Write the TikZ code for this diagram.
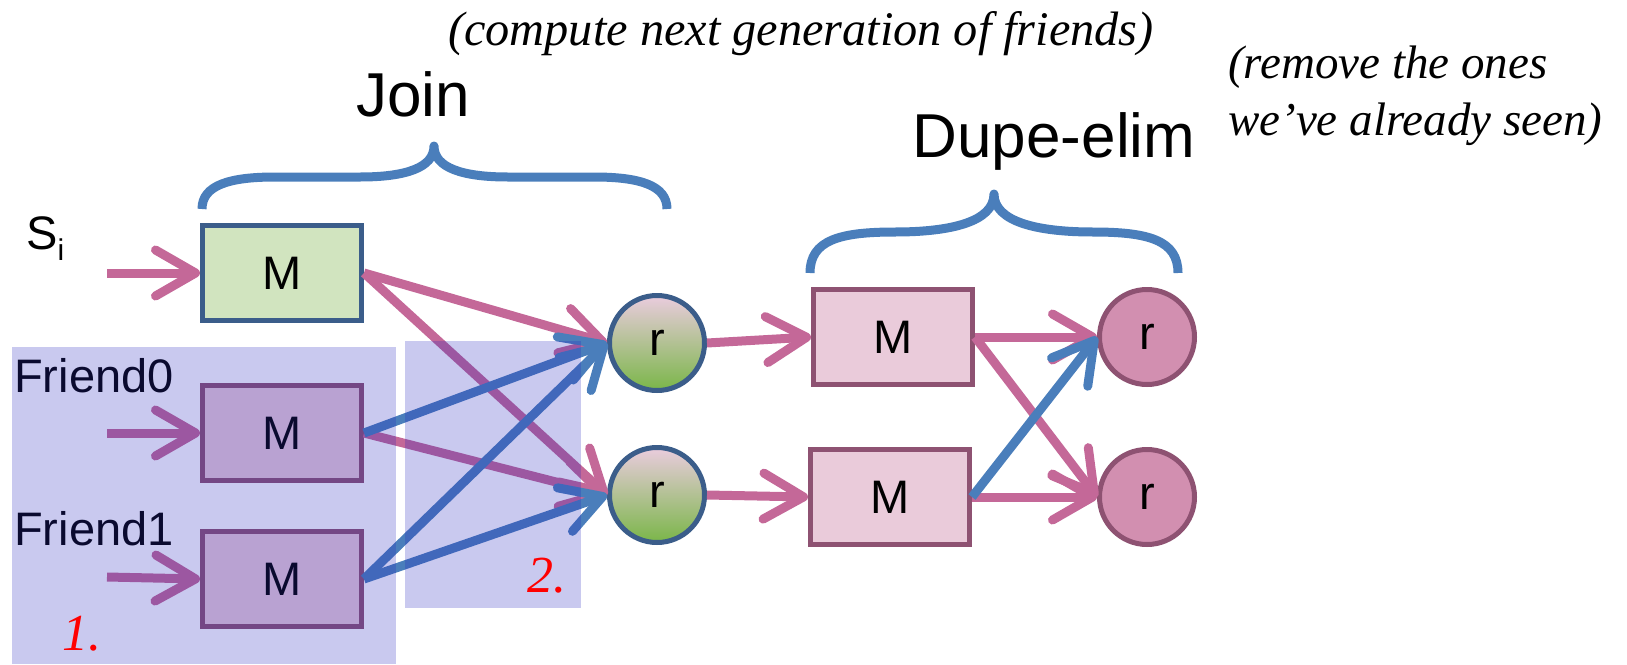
\documentclass[tikz,border=0pt]{standalone}
\usepackage{fontspec}
\setmainfont{Liberation Serif}
\newfontfamily\arialf{Liberation Sans}
\usetikzlibrary{arrows.meta}
\definecolor{pinkA}{RGB}{196,104,152}
\definecolor{blueA}{RGB}{74,126,187}
\definecolor{greenF}{RGB}{209,228,191}
\definecolor{navyB}{RGB}{59,93,138}
\definecolor{pinkF}{RGB}{234,203,218}
\definecolor{pinkB}{RGB}{142,82,114}
\definecolor{rosF}{RGB}{210,143,176}
\definecolor{gtop}{RGB}{234,204,222}
\definecolor{gmid}{RGB}{200,184,170}
\definecolor{gbot}{RGB}{122,182,72}
\definecolor{lavov}{RGB}{40,40,190}
\definecolor{braceC}{RGB}{74,126,187}
\pgfdeclarelayer{fg}
\pgfsetlayers{main,fg}
\begin{document}
\begin{tikzpicture}[x=1pt,y=-1pt,
  mbox/.style={draw, line width=5pt, minimum width=159pt, minimum height=95pt, inner sep=0pt,
    font=\arialf\fontsize{47}{47}\selectfont},
  greenbox/.style={mbox, fill=greenF, draw=navyB},
  pinkbox/.style={mbox, fill=pinkF, draw=pinkB},
  rnode/.style={circle, line width=5pt, minimum size=95pt, inner sep=0pt,
    font=\arialf\fontsize{47}{47}\selectfont},
  gradr/.style={rnode, draw=navyB, top color=gtop, middle color=gmid, bottom color=gbot},
  rosr/.style={rnode, draw=pinkB, fill=rosF},
  flow/.style={line width=9pt, -{Straight Barb[length=40pt,width=46pt,round]}},
  pflow/.style={flow, draw=pinkA},
  bflow/.style={flow, draw=blueA},
  brace/.style={draw=braceC, line width=9pt, line join=round},
  sanslbl/.style={inner sep=0pt, font=\arialf\fontsize{47}{47}\selectfont},
  biglbl/.style={inner sep=0pt, font=\arialf\fontsize{62}{62}\selectfont},
  notelbl/.style={inner sep=0pt, font=\itshape\fontsize{47}{47}\selectfont},
  redlbl/.style={inner sep=0pt, text=red, font=\itshape\fontsize{52}{52}\selectfont},
  shade/.style={fill=lavov, fill opacity=0.25}
]
\useasboundingbox (0,0) rectangle (1627,664);

% annotations
\node[notelbl, font=\itshape\fontsize{48.3}{48}\selectfont, anchor=base west] (note1) at (448,45) {(compute next generation of friends)};
\node[notelbl, anchor=base west] (note2) at (1228,78) {(remove the ones};
\node[notelbl, anchor=base west] (note3) at (1228,135) {we’ve already seen)};
\node[biglbl, anchor=base] (join) at (413,116) {Join};
\node[biglbl, anchor=base] (dupe) at (1054,157) {Dupe-elim};

% braces
\draw[brace] (202,209) .. controls (202,185) and (230,177) .. (275,177) -- (360,177)
  .. controls (405,177) and (434,168) .. (434,146)
  .. controls (434,168) and (463,177) .. (508,177) -- (594,177)
  .. controls (639,177) and (667,185) .. (667,209);
\draw[brace] (810,273) .. controls (810,240) and (840,232) .. (895,232)
  .. controls (950,232) and (994,222) .. (994,194)
  .. controls (994,222) and (1038,232) .. (1093,232)
  .. controls (1148,232) and (1178,240) .. (1178,273);

% input labels
\node[sanslbl, anchor=base west] (si) at (26,249) {S\raisebox{-11pt}{\fontsize{30}{30}\selectfont i}};
\node[sanslbl, anchor=base west] (f0) at (14,392) {Friend0};
\node[sanslbl, anchor=base west] (f1) at (14,545) {Friend1};

% nodes
\node[greenbox] (ms) at (282,273) {M};
\node[pinkbox] (mf0) at (282,433) {M};
\node[pinkbox] (mf1) at (282,579) {M};
\node[gradr] (r1) at (657,343) {r};
\node[gradr] (r2) at (657,495) {r};
\node[pinkbox] (m2) at (893,337) {M};
\node[pinkbox] (m3) at (890,497) {M};
\node[rosr] (r3) at (1147,337) {r};
\node[rosr] (r4) at (1147,497) {r};

\coordinate (ins) at (107,273);
\coordinate (inf0) at (107,433);
\coordinate (inf1) at (107,577);

% connectors
\draw[pflow] (ins) -- (ms.west);
\draw[pflow] (inf0) -- (mf0.west);
\draw[pflow] (inf1) -- (mf1.west);
\draw[pflow] (ms.east) -- (r1.west);
\draw[pflow] (ms.east) -- (r2.west);
\draw[pflow] (mf0.east) -- (r2.west);
\draw[bflow] (mf0.east) -- (r1.west);
\draw[bflow] (mf1.east) -- (r1.west);
\draw[bflow] (mf1.east) -- (r2.west);
\draw[pflow] (r1.east) -- (m2.west);
\draw[pflow] (r2.east) -- (m3.west);
\draw[pflow] (m2.east) -- (r3.west);
\draw[pflow] (m2.east) -- (r4.west);
\draw[pflow] (m3.east) -- (r4.west);
\draw[bflow] (m3.east) -- (r3.west);

% overlays
\begin{pgfonlayer}{fg}
\fill[shade] (12,347) rectangle (396,664);
\fill[shade] (405,341) rectangle (581,608);
\node[redlbl, anchor=base west] (one) at (62,650) {1.};
\node[redlbl, anchor=base west] (two) at (527,592) {2.};
\end{pgfonlayer}
\end{tikzpicture}
\end{document}
